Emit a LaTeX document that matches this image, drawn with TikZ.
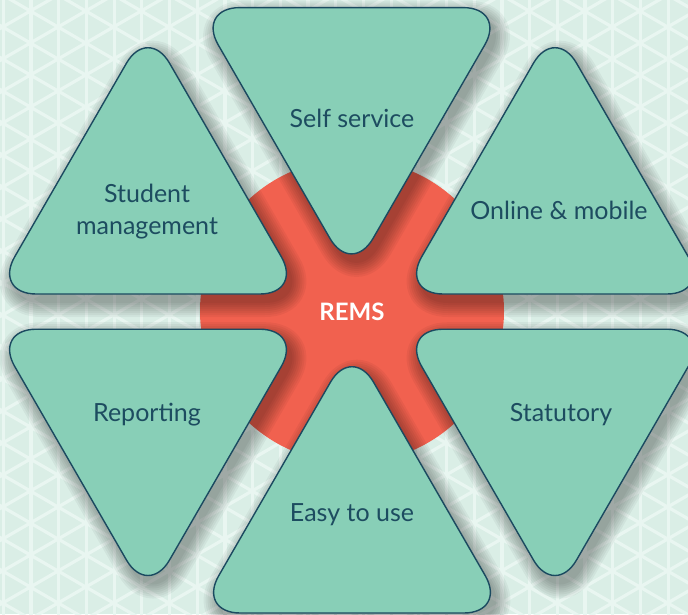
\documentclass[tikz,border=0pt]{standalone}
\usepackage{fontspec}
\setmainfont{Lato}
\definecolor{bgmint}{HTML}{DAEEE6}
\definecolor{latmint}{HTML}{E9F6F1}
\definecolor{tilegreen}{HTML}{88CFB7}
\definecolor{tileline}{HTML}{1B4A60}
\definecolor{labelteal}{HTML}{1D4C60}
\definecolor{remsred}{HTML}{F1614F}
\tikzset{
    x=1pt, y=-1pt, % pixel units, y runs down
    }

\begin{document}
\begin{tikzpicture}[
tilebox/.style={fill=tilegreen, draw=tileline, line width=1.4pt, rounded corners=43pt},
shadowbox/.style={fill=black, draw=black, rounded corners=43pt},
latline/.style={draw=latmint, line width=3.2pt},
tilelabel/.style={text=labelteal, anchor=base, font=\fontsize{25}{30}\selectfont},
]
\useasboundingbox (0,0) rectangle (688,614);
\clip (0,0) rectangle (688,614);

% background lattice
\fill[bgmint] (0,0) rectangle (688,614);
\foreach \i in {0,...,25}
  \draw[latline] ({3.3+27.7*\i},-5) -- ({3.3+27.7*\i},620);
\foreach \k in {-14,...,31} {
  \draw[latline] (-10,{27+32*\k-39.3}) -- (700,{27+32*\k+370.7});
  \draw[latline] (-10,{27+32*\k+39.3}) -- (700,{27+32*\k-370.7});
}

% hub
\fill[remsred] (352,311) circle (152);

% soft shadows
\foreach \cx/\cy/\d in {351.5/97/1, 148/204.6/-1, 555/204.6/-1, 148/418.6/1, 555/418.6/1, 352/523.6/-1} {
  \foreach \w in {30,26,22,18,14,10,6,2} {
    \begin{scope}[transparency group, opacity=0.045, shift={(5,8)}]
      \filldraw[shadowbox, line width=\w pt] ({\cx-154.8},{\cy-\d*89.4}) -- ({\cx+154.8},{\cy-\d*89.4}) -- (\cx,{\cy+\d*178.7}) -- cycle;
    \end{scope}
  }
}

% tiles
\foreach \cx/\cy/\d in {351.5/97/1, 148/204.6/-1, 555/204.6/-1, 148/418.6/1, 555/418.6/1, 352/523.6/-1}
  \draw[tilebox] ({\cx-154.8},{\cy-\d*89.4}) -- ({\cx+154.8},{\cy-\d*89.4}) -- (\cx,{\cy+\d*178.7}) -- cycle;

\node[tilelabel] (selfsrv) at (352,127) {Self service};
\node[tilelabel] (student) at (147,202) {Student};
\node[tilelabel] (mgmt) at (147,234) {management};
\node[tilelabel] (online) at (559,219.5) {Online \& mobile};
\node[tilelabel, text=white, font=\fontsize{24}{28}\selectfont\bfseries] (rems) at (352,320) {REMS};
\node[tilelabel] (report) at (147,421.5) {Reporting};
\node[tilelabel] (statut) at (561,421.5) {Statutory};
\node[tilelabel] (easy) at (352,521) {Easy to use};

\end{tikzpicture}
\end{document}
